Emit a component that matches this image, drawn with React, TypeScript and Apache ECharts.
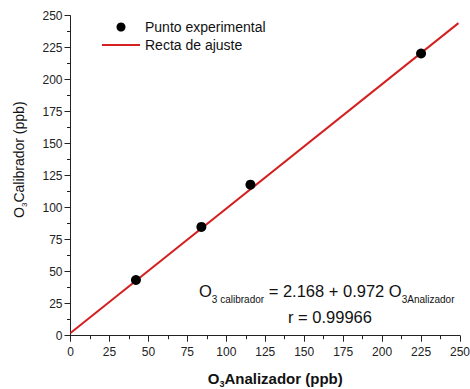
import React, { useEffect, useRef } from "react";
import * as echarts from "echarts";

const FONT = "'Liberation Sans', Arial, Helvetica, sans-serif";

const seriesNames = ["Punto experimental", "Recta de ajuste"];
const analizador = [42, 84, 115.5, 225];
const calibrador = [43.5, 85, 118, 220.5];
const fitX = [0, 249];
const fitY = [2.17, 244.2];
const xTicks = [0, 25, 50, 75, 100, 125, 150, 175, 200, 225, 250];
const yTicks = [0, 25, 50, 75, 100, 125, 150, 175, 200, 225, 250];
const equationLine1 = "{o|O}{s|3 calibrador}{o| = 2.168 + 0.972 O}{s|3Analizador}";
const equationLine2 = "r = 0.99966";

export default function App() {
  const ref = useRef<HTMLDivElement>(null);
  useEffect(() => {
    if (!ref.current) return;
    const chart = echarts.init(ref.current, null, { renderer: "svg" });
    const axisCommon = {
      interval: 25,
      axisLine: { show: true, lineStyle: { color: "#222", width: 1 } },
      axisTick: { show: true, inside: false, length: 6, lineStyle: { color: "#222" } },
      minorTick: { show: true, splitNumber: 2, length: 3.5, lineStyle: { color: "#222" } },
      splitLine: { show: false },
      axisLabel: { color: "#222", fontSize: 12, fontFamily: FONT },
    };
    chart.setOption({
      animation: false,
      backgroundColor: "#fff",
      grid: {
        left: 70.5,
        right: 10,
        top: 15.7,
        bottom: 53.3,
        containLabel: false,
        outerBoundsMode: "none",
      },
      legend: {
        orient: "vertical",
        left: 97,
        top: 15,
        itemWidth: 38,
        itemHeight: 9,
        itemGap: 4,
        textStyle: { fontSize: 14, color: "#111", fontFamily: FONT },
        data: [
          { name: seriesNames[0], icon: "circle" },
          { name: seriesNames[1], icon: "path://M0,0H38V2H0Z" },
        ],
      },
      xAxis: {
        type: "value",
        ...axisCommon,
        min: xTicks[0],
        max: xTicks[xTicks.length - 1],
        axisLabel: { ...axisCommon.axisLabel, margin: 10 },
        name: "{b|O}{bs|3}{b|Analizador (ppb)}",
        nameLocation: "middle",
        nameGap: 33,
        nameTextStyle: {
          padding: [0, 0, 0, 20],
          rich: {
            b: { fontSize: 15, fontWeight: "bold", fontFamily: FONT, color: "#111", lineHeight: 20 },
            bs: { fontSize: 9, fontWeight: "bold", fontFamily: FONT, color: "#111", lineHeight: 9, verticalAlign: "bottom" },
          },
        },
      },
      yAxis: {
        type: "value",
        ...axisCommon,
        min: yTicks[0],
        max: yTicks[yTicks.length - 1],
        axisLabel: { ...axisCommon.axisLabel, margin: 8 },
        name: "{n|O}{ns|3}{n|Calibrador (ppb)}",
        nameLocation: "middle",
        nameRotate: 90,
        nameGap: 42,
        nameTextStyle: {
          padding: [0, 0, 0, 32],
          rich: {
            n: { fontSize: 14, fontFamily: FONT, color: "#111", lineHeight: 19 },
            ns: { fontSize: 8, fontFamily: FONT, color: "#111", lineHeight: 8, verticalAlign: "bottom" },
          },
        },
      },
      graphic: [
        {
          type: "text",
          x: 199,
          y: 291,
          style: {
            text: equationLine1,
            fill: "#111",
            verticalAlign: "middle",
            align: "left",
            rich: {
              o: { fontSize: 16.5, fontFamily: FONT, fill: "#111", lineHeight: 26 },
              s: { fontSize: 10, fontFamily: FONT, fill: "#111", lineHeight: 10, verticalAlign: "bottom" },
            },
          },
        },
        {
          type: "text",
          x: 330,
          y: 317,
          style: {
            text: equationLine2,
            fill: "#111",
            font: `16.5px ${FONT}`,
            align: "center",
            verticalAlign: "middle",
          },
        },
      ],
      series: [
        {
          name: seriesNames[1],
          type: "line",
          data: fitX.map((x, i) => [x, fitY[i]]),
          symbol: "none",
          lineStyle: { color: "#d42020", width: 2 },
          itemStyle: { color: "#d42020" },
          z: 2,
        },
        {
          name: seriesNames[0],
          type: "scatter",
          data: analizador.map((x, i) => [x, calibrador[i]]),
          symbol: "circle",
          symbolSize: 10,
          itemStyle: { color: "#000", opacity: 1 },
          z: 3,
        },
      ],
    });
    return () => chart.dispose();
  }, []);
  return (
    <div
      ref={ref}
      style={{ position: "fixed", left: 0, top: 0, width: 470, height: 389 }}
    />
  );
}
